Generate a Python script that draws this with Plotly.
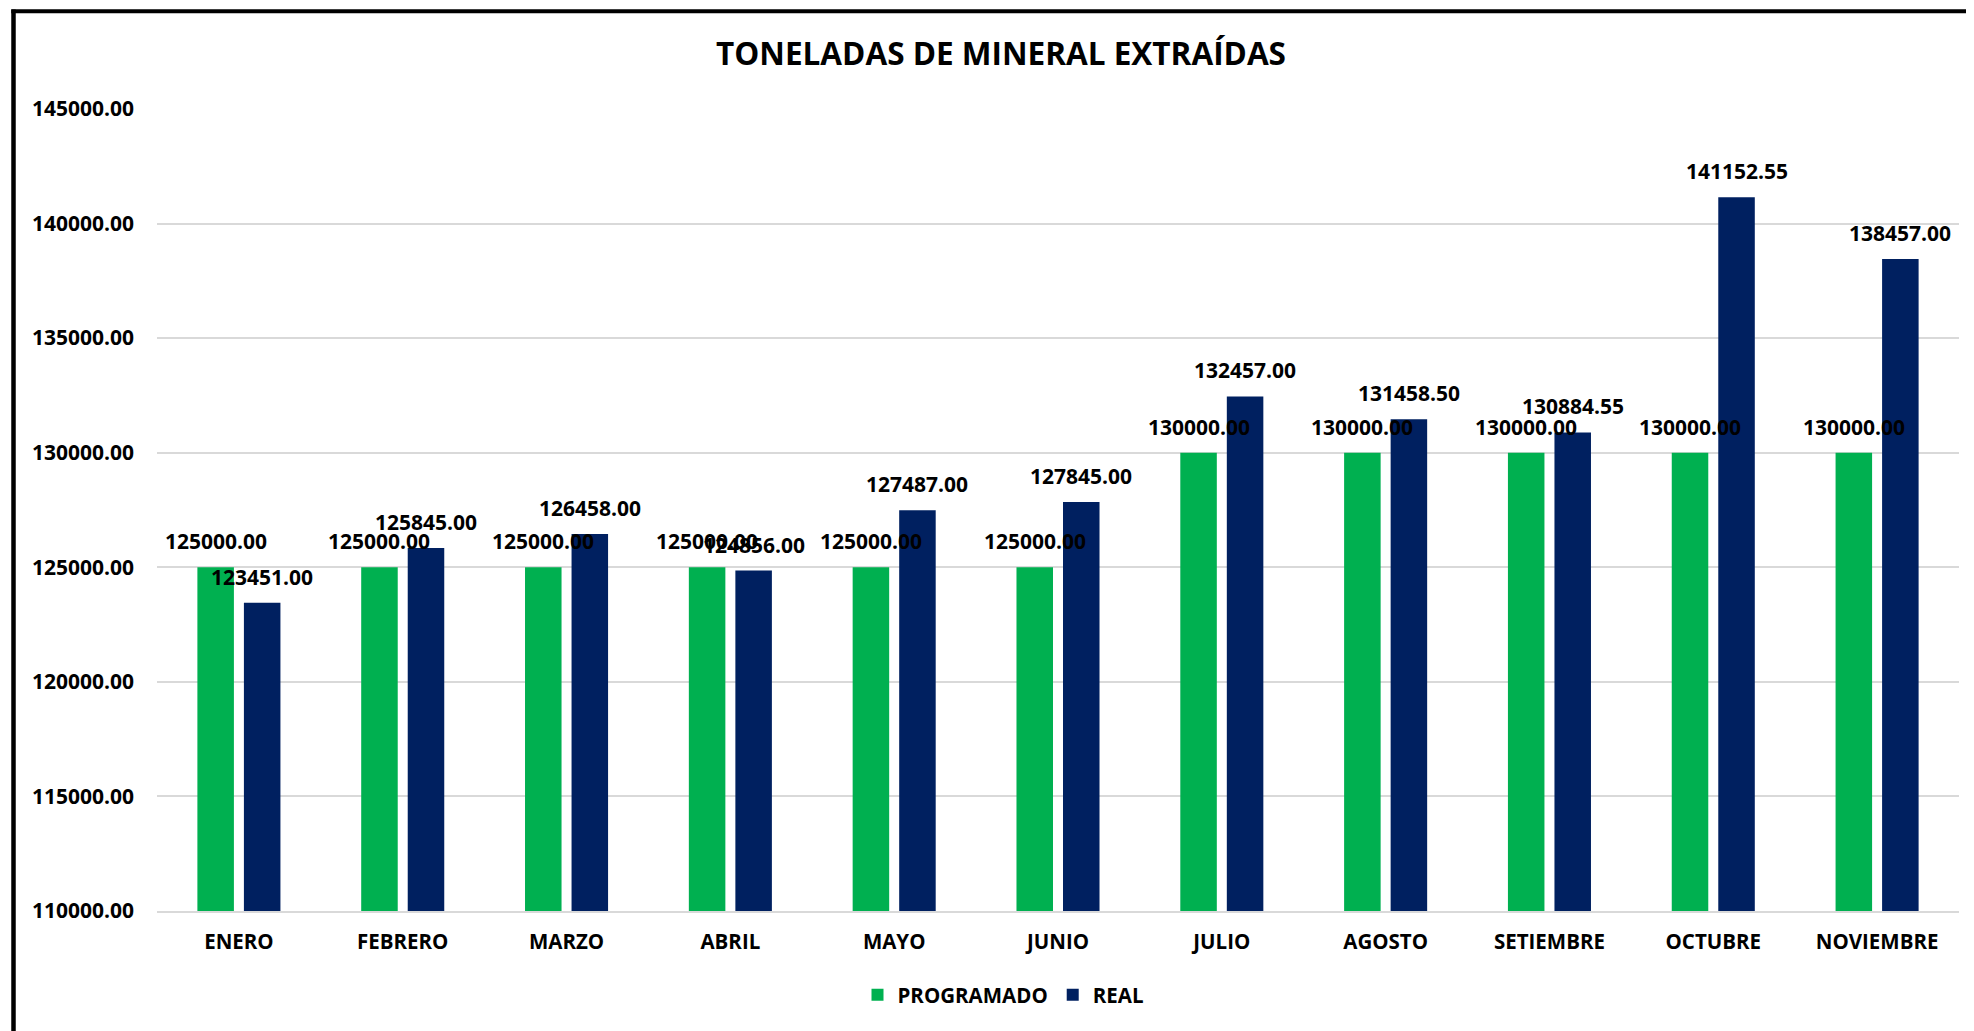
import plotly.graph_objects as go

months = ["ENERO", "FEBRERO", "MARZO", "ABRIL", "MAYO", "JUNIO", "JULIO",
          "AGOSTO", "SETIEMBRE", "OCTUBRE", "NOVIEMBRE"]
programado = [125000.00, 125000.00, 125000.00, 125000.00, 125000.00, 125000.00,
              130000.00, 130000.00, 130000.00, 130000.00, 130000.00]
real = [123451.00, 125845.00, 126458.00, 124856.00, 127487.00, 127845.00,
        132457.00, 131458.50, 130884.55, 141152.55, 138457.00]
y_ticks = [110000, 115000, 120000, 125000, 130000, 135000, 140000, 145000]
title_text = "TONELADAS DE MINERAL EXTRAÍDAS"

GREEN = "#00B050"
NAVY = "#002060"
FONT = "Open Sans"

# page body margin offsets the figure by 8px
OFF = 8
W, H = 1974 - OFF, 1031 - OFF
L = 157 - OFF
T = 109 - OFF
plot_right = 1959 - OFF
plot_bottom = 911 - OFF
R = W - plot_right
B = H - plot_bottom
pw, ph = W - L - R, H - T - B

bargap = 0.432
bargroupgap = 0.215
slot = (1 - bargap) / 2

fig = go.Figure()
fig.add_trace(go.Bar(name="PROGRAMADO", x=months, y=programado,
                     marker=dict(color=GREEN, line=dict(width=0))))
fig.add_trace(go.Bar(name="REAL", x=months, y=real,
                     marker=dict(color=NAVY, line=dict(width=0))))

annotations = []
for i, (p, r) in enumerate(zip(programado, real)):
    for off, v in ((-slot / 2, p), (slot / 2, r)):
        annotations.append(dict(
            x=i + off, y=v, xref="x", yref="y", text=f"{v:.2f}",
            showarrow=False, yanchor="bottom", xanchor="center", yshift=10,
            font=dict(family=FONT, size=21, color="black", weight=700)))


def px_x(px):
    return (px - OFF - L) / pw


def px_y(py):
    return (plot_bottom - (py - OFF)) / ph


shapes = [
    dict(type="line", xref="paper", yref="paper",
         x0=px_x(13.5), x1=px_x(13.5), y0=px_y(9.5), y1=px_y(1045),
         line=dict(color="black", width=4.5)),
    dict(type="line", xref="paper", yref="paper",
         x0=px_x(11.3), x1=px_x(1990), y0=px_y(11.3), y1=px_y(11.3),
         line=dict(color="black", width=4)),
]

fig.update_layout(
    width=W, height=H,
    margin=dict(l=L, r=R, t=T, b=B, autoexpand=False),
    paper_bgcolor="white", plot_bgcolor="white",
    barmode="group", bargap=bargap, bargroupgap=bargroupgap,
    title=dict(text=title_text, x=(1001 - OFF) / W, xref="container",
               xanchor="center",
               y=1 - (54 - OFF) / H, yref="container", yanchor="middle",
               font=dict(family=FONT, size=31.5, color="black", weight=700)),
    font=dict(family=FONT, color="black"),
    showlegend=True,
    legend=dict(orientation="h", x=px_x(1003), xanchor="center",
                y=px_y(995), yanchor="middle",
                font=dict(family=FONT, size=20.5, color="black", weight=700),
                itemsizing="constant", traceorder="normal"),
    annotations=annotations,
    shapes=shapes,
    xaxis=dict(type="category", showgrid=False, showline=True,
               linecolor="#D9D9D9", linewidth=1.5, ticks="",
               ticklabelstandoff=12,
               tickfont=dict(family=FONT, size=20.5, color="black", weight=700)),
    yaxis=dict(range=[110000, 145000], tickvals=y_ticks,
               ticktext=[f"{v:.2f}" for v in y_ticks],
               showgrid=True, gridcolor="#D9D9D9", gridwidth=1.5,
               zeroline=False, showline=False, ticks="",
               ticklabelstandoff=22,
               tickfont=dict(family=FONT, size=21, color="black", weight=700)),
)

fig.write_html("out.html")
